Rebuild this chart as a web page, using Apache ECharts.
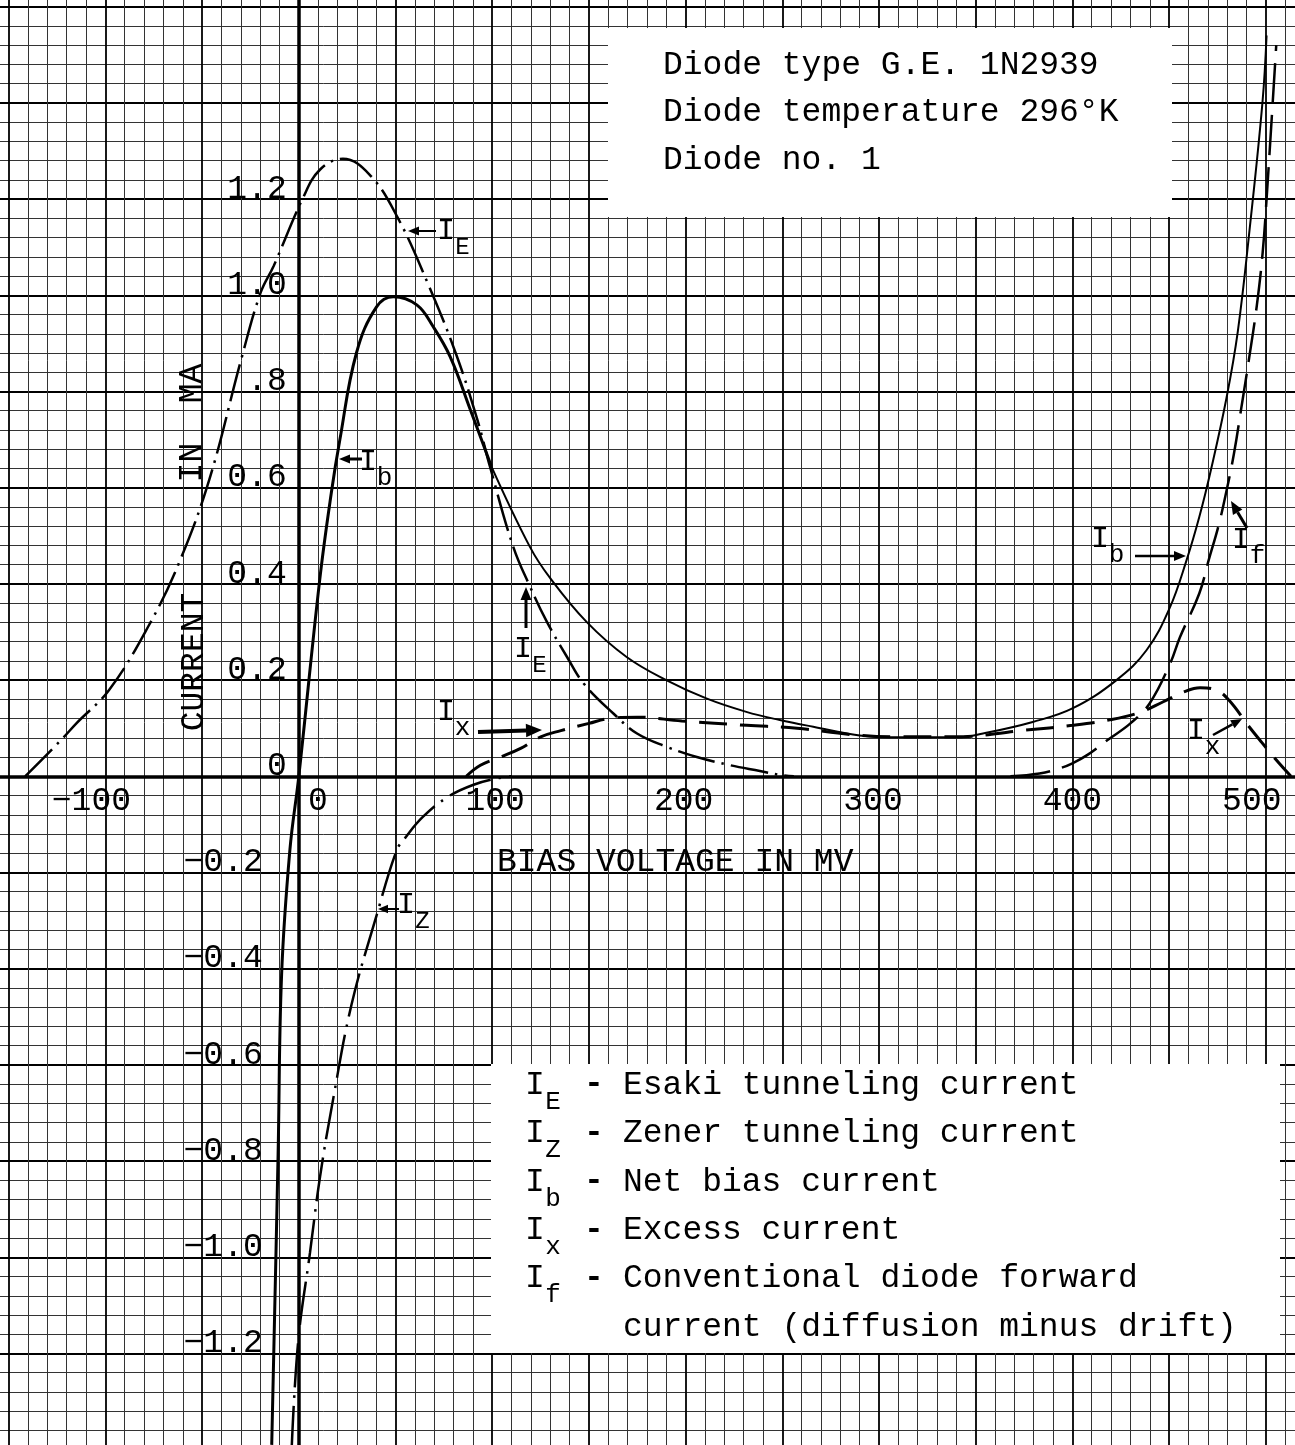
<!DOCTYPE html>
<html>
<head>
<meta charset="utf-8">
<script src="https://cdn.jsdelivr.net/npm/echarts@6/dist/echarts.min.js"></script>
<style>
  html, body { margin: 0; padding: 0; background: #fff; }
  #chart { width: 1295px; height: 1445px; }
</style>
</head>
<body>
<div id="chart"></div>
<script>
// ---- Measured components of the tunnel-diode I–V characteristic ----
// bias voltage in mV, current in mA

// I_E: Esaki tunneling current
const ieV = [-141.5, -123, -115, -98, -77.5, -62, -46.2, -29.7, -19.8, -13, 2, 10.9, 22.8, 36.8, 51.2, 66.8, 81.3, 92.2, 98.9, 110.9, 119.6, 128.3, 138.7, 147.3, 162.8, 174.9, 190.4, 205.8, 223, 238.4, 250, 256];
const ieI = [0, 0.075, 0.110, 0.18, 0.314, 0.443, 0.618, 0.868, 1.005, 1.061, 1.201, 1.261, 1.284, 1.250, 1.161, 1.024, 0.878, 0.743, 0.643, 0.477, 0.394, 0.321, 0.248, 0.193, 0.130, 0.089, 0.061, 0.040, 0.023, 0.011, 0.002, 0];

// I_Z: Zener tunneling current
const izV = [-3.7, -0.3, 5.8, 11, 17.9, 27.3, 40.3, 50.6, 55, 64, 77, 90, 103, 110];
const izI = [-1.40, -1.174, -0.990, -0.832, -0.668, -0.474, -0.288, -0.154, -0.128, -0.085, -0.043, -0.018, -0.004, 0];

// I_b: net bias current
const ibV = [-14.0, -10.7, -8.9, -4.6, 0, 10.8, 16.8, 21.2, 29.8, 40.2, 48.9, 61, 69.6, 78.3, 88.7, 99.5, 119.5, 129.8, 148.8, 169.5, 190, 210.7, 231.4, 248.7, 266, 290, 310.8, 340.3, 353.8, 379.5, 400, 422.8, 438.3, 450.2, 459, 465.6, 471.8, 479.7, 485.5, 491.6, 498.3, 500.4];
const ibI = [-1.39, -0.785, -0.413, -0.153, 0, 0.408, 0.589, 0.699, 0.880, 0.976, 0.997, 0.980, 0.934, 0.872, 0.762, 0.645, 0.477, 0.413, 0.321, 0.248, 0.200, 0.162, 0.134, 0.117, 0.103, 0.085, 0.081, 0.081, 0.089, 0.113, 0.141, 0.200, 0.262, 0.349, 0.449, 0.539, 0.640, 0.787, 0.924, 1.136, 1.402, 1.540];

// I_x: excess current
const ixV = [86.6, 93.9, 104.3, 114.7, 125.1, 135.5, 150, 160, 175, 198, 231.6, 257.6, 285, 308.7, 338.5, 376, 400, 420, 435, 447, 458, 466, 474, 481, 491, 498, 505, 513];
const ixI = [0, 0.023, 0.040, 0.058, 0.082, 0.095, 0.110, 0.120, 0.123, 0.115, 0.106, 0.100, 0.087, 0.082, 0.082, 0.096, 0.106, 0.118, 0.133, 0.155, 0.176, 0.184, 0.180, 0.158, 0.105, 0.070, 0.036, 0];

// I_f: conventional diode forward current
const ifV = [368, 383, 393, 400, 408, 418, 430, 440, 450.6, 455.6, 465.6, 470.5, 475.5, 479.5, 483.5, 487.5, 491.4, 495.4, 498.4, 500.4, 505.4];
const ifI = [0, 0.006, 0.016, 0.027, 0.045, 0.075, 0.11, 0.152, 0.235, 0.289, 0.38, 0.45, 0.52, 0.59, 0.67, 0.77, 0.87, 0.98, 1.09, 1.20, 1.52];

// tick labels
const xTickVals = [-100, 0, 100, 200, 300, 400, 500];
const xTickText = ['−100', '0', '100', '200', '300', '400', '500'];
const yTickVals = [1.2, 1.0, 0.8, 0.6, 0.4, 0.2, 0, -0.2, -0.4, -0.6, -0.8, -1.0, -1.2];
const yTickText = ['1.2', '1.0', '.8', '0.6', '0.4', '0.2', '0', '−0.2', '−0.4', '−0.6', '−0.8', '−1.0', '−1.2'];

// ---- drawing ----
const MONO = '"Liberation Mono", "DejaVu Sans Mono", monospace';
const INK = '#000';
const pair = (v, i) => v.map((x, k) => [x, i[k]]);

// hand-lettered x labels sit a little off their grid lines
const xLabelNudge = [-14, 19, 3, -2, -6, 0, -14];
const xRich = {};
xTickText.forEach((t, k) => {
  const d = xLabelNudge[k];
  xRich['x' + k] = {
    fontFamily: MONO, fontSize: 33, color: INK,
    padding: d >= 0 ? [0, 0, 0, 2 * d] : [0, -2 * d, 0, 0]
  };
});

const ibAll = pair(ibV, ibI);
const ibHump = ibAll.filter(p => p[0] <= 99.5);
const ibTail = ibAll.filter(p => p[0] >= 99.5);

function txt(x, y, s, size, align, extra) {
  const el = {
    type: 'text', x: x, y: y, z: 60,
    style: {
      text: s, fontFamily: MONO, fontSize: size, fill: INK,
      align: align || 'left', textAlign: align || 'left',
      verticalAlign: 'middle', textVerticalAlign: 'middle'
    }
  };
  return Object.assign(el, extra || {});
}
// a letter I with a subscript
function isub(x, y, sub, size, subSize) {
  return [txt(x, y, 'I', size, 'center'), txt(x + size * 0.55, y + size * 0.55, sub, subSize, 'center')];
}
function arrow(x1, y1, x2, y2, w, head) {
  const a = Math.atan2(y2 - y1, x2 - x1);
  const hw = head * 0.42;
  const bx = x2 - head * Math.cos(a), by = y2 - head * Math.sin(a);
  const px = -Math.sin(a) * hw, py = Math.cos(a) * hw;
  return [
    { type: 'line', z: 60, shape: { x1: x1, y1: y1, x2: bx, y2: by }, style: { stroke: INK, lineWidth: w } },
    { type: 'polygon', z: 60, shape: { points: [[x2, y2], [bx + px, by + py], [bx - px, by - py]] }, style: { fill: INK } }
  ];
}

const graphics = [];
// caption block, upper right
graphics.push({ type: 'rect', z: 50, shape: { x: 608, y: 28, width: 564, height: 189 }, style: { fill: '#fff' } });
graphics.push(txt(663, 65, 'Diode type G.E. 1N2939', 33));
graphics.push(txt(663, 112, 'Diode temperature 296°K', 33));
graphics.push(txt(663, 160, 'Diode no. 1', 33));

// key, lower right
graphics.push({ type: 'rect', z: 50, shape: { x: 491, y: 1064, width: 789, height: 289 }, style: { fill: '#fff' } });
const keySubs = ['E', 'Z', 'b', 'x', 'f'];
const keyText = ['Esaki tunneling current', 'Zener tunneling current', 'Net bias current', 'Excess current', 'Conventional diode forward'];
keySubs.forEach((s, k) => {
  const y = 1085 + k * 48.4;
  graphics.push(txt(535, y, 'I', 33, 'center'));
  graphics.push(txt(553, y + 17, s, 26, 'center'));
  graphics.push(txt(594, y, '-', 33, 'center', { style: { text: '-', fontFamily: MONO, fontSize: 33, fontWeight: 'bold', fill: INK, align: 'center', textAlign: 'center', verticalAlign: 'middle', textVerticalAlign: 'middle' } }));
  graphics.push(txt(623, y, keyText[k], 33));
});
graphics.push(txt(623, 1085 + 5 * 48.4, 'current (diffusion minus drift)', 33));

// axis titles
graphics.push(txt(497, 862, 'BIAS VOLTAGE IN MV', 33));
graphics.push(txt(194, 662, 'CURRENT', 33, 'center', { rotation: Math.PI / 2 }));
graphics.push(txt(192, 423, 'IN  MA', 33, 'center', { rotation: Math.PI / 2 }));

// curve call-outs
graphics.push(...arrow(436, 231, 408, 231, 2, 11));
graphics.push(...isub(446, 231, 'E', 30, 24));
graphics.push(...arrow(362, 459, 339, 459, 3, 11));
graphics.push(...isub(368, 462, 'b', 30, 26));
graphics.push(...isub(446, 712, 'x', 30, 26));
graphics.push(...arrow(478, 732, 542, 730, 4, 16));
graphics.push(...arrow(526, 628, 526, 587, 3, 13));
graphics.push(...isub(523, 649, 'E', 30, 24));
graphics.push(...arrow(399, 909, 378, 909, 2, 10));
graphics.push(...isub(406, 905, 'Z', 30, 24));
graphics.push(...isub(1100, 539, 'b', 30, 26));
graphics.push(...arrow(1135, 556, 1186, 556, 2.5, 12));
graphics.push(...arrow(1247, 528, 1231, 501, 3, 13));
graphics.push(...isub(1241, 540, 'f', 30, 26));
graphics.push(...isub(1196, 731, 'x', 30, 26));
graphics.push(...arrow(1213, 735, 1242, 719, 2.5, 11));

// tick labels sit on the axes themselves, so they are placed as
// label-only points at the axis values
const yLabelPoints = yTickVals.map((v, k) => ({ value: [0, v], name: yTickText[k] }));
const xLabelPoints = xTickVals.map((v, k) => ({ value: [v, 0], name: String(k) }));

const option = {
  animation: false,
  backgroundColor: '#fff',
  grid: { left: -88, right: -67.5, top: -89.5, bottom: -100.9, containLabel: false, outerBoundsMode: 'none' },
  xAxis: {
    type: 'value', min: -200, max: 550, interval: 50,
    axisLine: { show: true, onZero: true, lineStyle: { color: INK, width: 3.5 } },
    axisTick: { show: false },
    axisLabel: { show: false },
    minorTick: { show: false, splitNumber: 5 },
    splitLine: { show: true, lineStyle: { color: INK, width: 1.8 } },
    minorSplitLine: { show: true, lineStyle: { color: '#333', width: 1 } }
  },
  yAxis: {
    type: 'value', min: -1.6, max: 1.8, interval: 0.2,
    axisLine: { show: true, onZero: true, lineStyle: { color: INK, width: 3.5 } },
    axisTick: { show: false },
    axisLabel: { show: false },
    minorTick: { show: false, splitNumber: 5 },
    splitLine: { show: true, lineStyle: { color: INK, width: 1.8 } },
    minorSplitLine: { show: true, lineStyle: { color: '#333', width: 1 } }
  },
  series: [
    { name: 'I_E', type: 'line', data: pair(ieV, ieI), symbol: 'none', smooth: 0.4, silent: true,
      lineStyle: { color: INK, width: 2.5, type: [38, 7, 2.5, 7] } },
    { name: 'I_Z', type: 'line', data: pair(izV, izI), symbol: 'none', smooth: 0.4, silent: true,
      lineStyle: { color: INK, width: 2.5, type: [44, 8, 2.5, 8] } },
    { name: 'I_b', type: 'line', data: ibHump, symbol: 'none', smooth: 0.4, silent: true,
      lineStyle: { color: INK, width: 3 } },
    { name: 'I_b', type: 'line', data: ibTail, symbol: 'none', smooth: 0.4, silent: true,
      lineStyle: { color: INK, width: 2 } },
    { name: 'I_x', type: 'line', data: pair(ixV, ixI), symbol: 'none', smooth: 0.4, silent: true,
      lineStyle: { color: INK, width: 3, type: [28, 13] } },
    { name: 'I_f', type: 'line', data: pair(ifV, ifI), symbol: 'none', smooth: 0.4, silent: true,
      lineStyle: { color: INK, width: 2.5, type: [40, 12] } },
    { name: 'current ticks', type: 'scatter', data: yLabelPoints, symbolSize: 0.1, silent: true, z: 20,
      itemStyle: { color: '#fff', opacity: 1 },
      label: {
        show: true, position: 'left', distance: 12, color: INK, opacity: 1,
        textBorderWidth: 0,
        formatter: p => (p.value[1] < 0 ? '{n|' : '{p|') + p.name + '}',
        rich: {
          p: { fontFamily: MONO, fontSize: 33, color: INK, padding: [0, 0, 20, 0] },
          n: { fontFamily: MONO, fontSize: 33, color: INK, padding: [0, 24, 20, 0] }
        }
      } },
    { name: 'voltage ticks', type: 'scatter', data: xLabelPoints, symbolSize: 0.1, silent: true, z: 20,
      itemStyle: { color: '#fff', opacity: 1 },
      label: {
        show: true, position: 'bottom', distance: 8, color: INK, opacity: 1,
        textBorderWidth: 0,
        formatter: p => '{x' + p.name + '|' + xTickText[+p.name] + '}',
        rich: xRich
      } }
  ],
  graphic: { elements: graphics }
};

const chart = echarts.init(document.getElementById('chart'), null, { renderer: 'canvas' });
chart.setOption(option);
</script>
</body>
</html>
